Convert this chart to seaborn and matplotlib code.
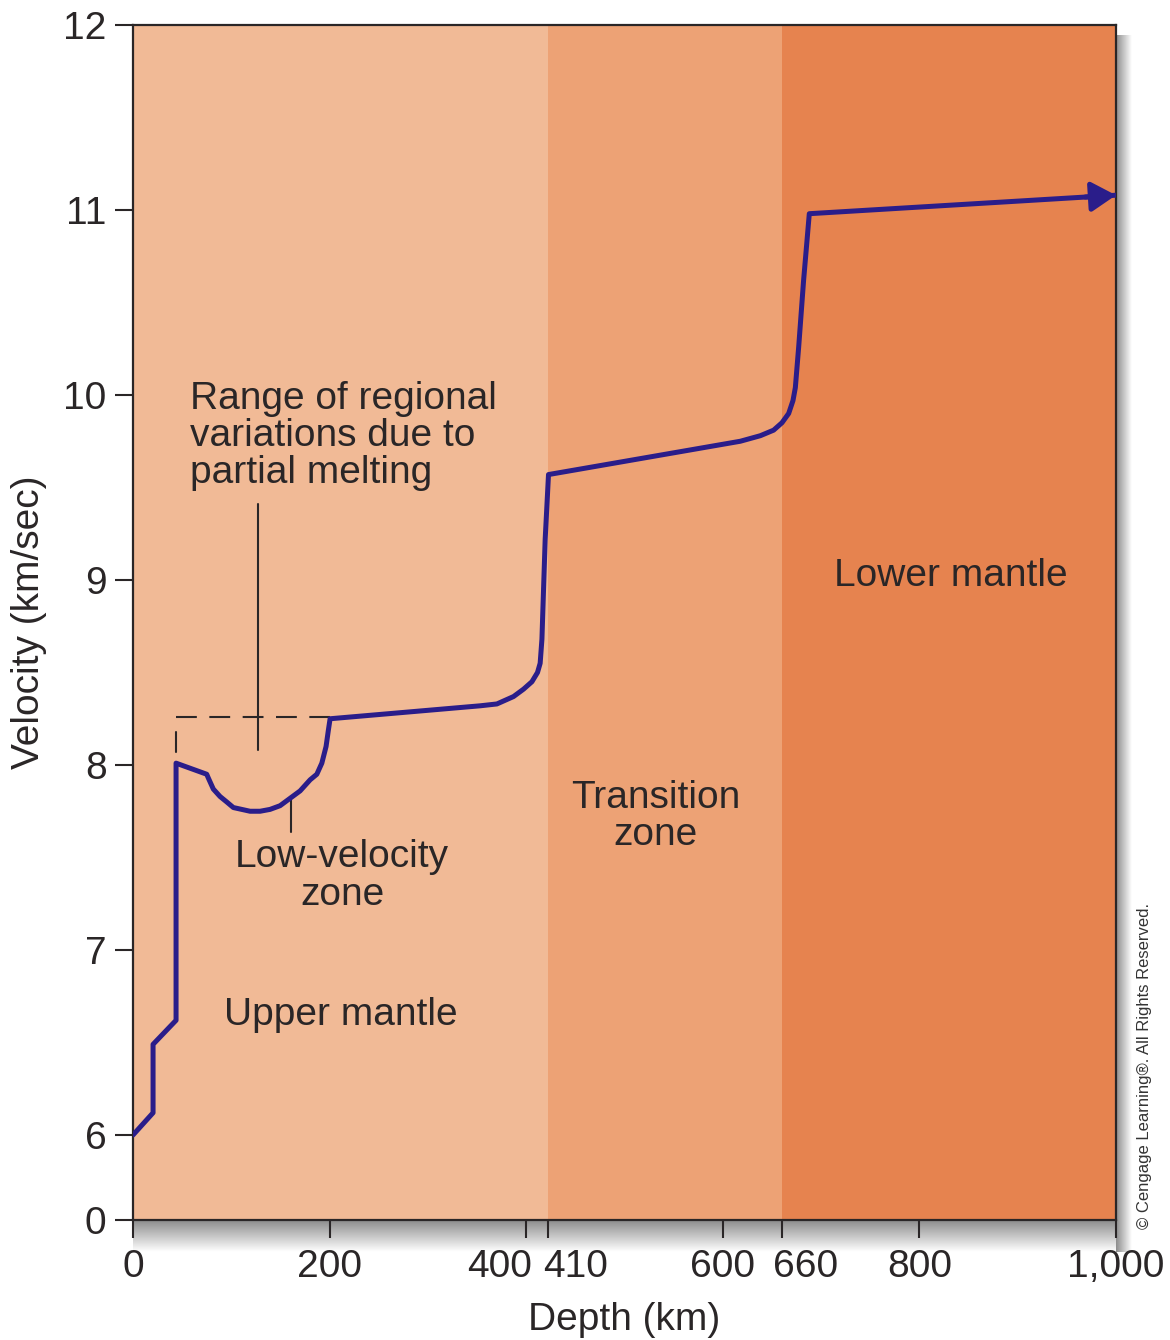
import numpy as np
import pandas as pd
import matplotlib
matplotlib.use("Agg")
import matplotlib.pyplot as plt
import matplotlib.transforms as mtransforms
import seaborn as sns

# ---------------- data ----------------
depth_km = [0, 20.4, 20.4, 43.8, 43.8, 75.0, 76.6, 81.7, 88.5, 95.4, 102.1, 110.6,
            119.1, 129.3, 139.4, 149.6, 159.8, 170.0, 180.2, 187.0, 192.1, 196.4,
            198.8, 200.5, 353.2, 370.2, 387.1, 397.3, 405.8, 411.5, 414.2, 416.0,
            419.3, 422.7, 617.8, 638.2, 651.7, 660.2, 667.0, 671.4, 673.8, 675.5,
            677.2, 682.2, 688.0, 1000.0]
velocity = [6.00, 6.12, 6.49, 6.62, 8.01, 7.95, 7.93, 7.87, 7.83, 7.80, 7.77, 7.76,
            7.75, 7.75, 7.76, 7.78, 7.82, 7.86, 7.92, 7.95, 8.01, 8.10,
            8.19, 8.25, 8.32, 8.33, 8.37, 8.41, 8.45, 8.50, 8.55, 8.68,
            9.22, 9.57, 9.75, 9.78, 9.81, 9.85, 9.90, 9.97, 10.04, 10.15,
            10.26, 10.62, 10.98, 11.08]

zone_names = ["Upper mantle", "Transition\nzone", "Lower mantle"]
zone_edges = [0, 422, 660, 1000]
zone_colors = ["#F1BA96", "#EDA275", "#E6834F"]

x_tick_pos = [0, 200, 400, 422, 600, 660, 800, 1000]
x_tick_labels = ["0", "200", "400", "410", "600", "660", "800", "1,000"]
x_label_shift_px = [0, 0, -27, 28, 0, 24, 0, 0]
y_tick_pos = [0, 6, 7, 8, 9, 10, 11, 12]
y_tick_labels = ["0", "6", "7", "8", "9", "10", "11", "12"]

melt_level = 8.26          # upper bound of regional variations (dashed)
lvz_depth = 160.5          # low-velocity zone pointer

# ---------------- style ----------------
sns.set_theme(style="white")
plt.rcParams["font.family"] = ["Liberation Sans", "DejaVu Sans"]
TXT = "#2A2627"
FS = 28
LS = 1.04

fig = plt.figure(figsize=(11.7, 13.4), dpi=100)
L, R = 133 / 1170, 1116 / 1170
B, T = 1 - 1220 / 1340, 1 - 25 / 1340

# drop shadow (bottom and right)
grad = np.linspace(0.55, 1.0, 64)
sh_b = fig.add_axes([L, 1 - 1252 / 1340, (1132 - 133) / 1170, 32 / 1340], zorder=0)
sh_b.imshow(grad[:, None] * np.ones((1, 10)), cmap="gray", vmin=0, vmax=1, aspect="auto")
sh_b.axis("off")
sh_r = fig.add_axes([R, 1 - 1252 / 1340, 16 / 1170, (1252 - 35) / 1340], zorder=0)
sh_r.imshow(np.ones((10, 1)) * grad[None, :], cmap="gray", vmin=0, vmax=1, aspect="auto")
sh_r.axis("off")

ax = fig.add_axes([L, B, R - L, T - B], zorder=2)

# broken y axis: 0..6 compressed
BR = 6 - 85 / 185
def fwd(v):
    v = np.asarray(v, dtype=float)
    return np.where(v >= 6, v, BR + v * (6 - BR) / 6)
def inv(u):
    u = np.asarray(u, dtype=float)
    return np.where(u >= 6, u, (u - BR) * 6 / (6 - BR))
ax.set_yscale("function", functions=(fwd, inv))

for i in range(len(zone_names)):
    ax.axvspan(zone_edges[i], zone_edges[i + 1], color=zone_colors[i], lw=0, zorder=0)

df = pd.DataFrame({"depth": depth_km, "velocity": velocity})
LINE = "#2A1D8A"
sns.lineplot(data=df, x="depth", y="velocity", sort=False, estimator=None,
             color=LINE, lw=3.6, ax=ax, zorder=5, solid_joinstyle="round",
             solid_capstyle="round")
ax.annotate("", xy=(depth_km[-1], velocity[-1]),
            xytext=(depth_km[-2] + 0.9 * (depth_km[-1] - depth_km[-2]),
                    velocity[-2] + 0.9 * (velocity[-1] - velocity[-2])),
            arrowprops=dict(arrowstyle="-|>,head_length=0.5,head_width=0.3", color=LINE,
                            lw=3.6, mutation_scale=30, shrinkA=0, shrinkB=0),
            zorder=6, annotation_clip=False)

# annotation lines
ax.plot([depth_km[4], depth_km[23]], [melt_level, melt_level], color=TXT, lw=1.5,
        dashes=(10, 6), zorder=4)
ax.plot([depth_km[4], depth_km[4]], [8.07, 8.18], color=TXT, lw=1.5, zorder=4)
ax.plot([127, 127], [8.08, 9.41], color=TXT, lw=1.5, zorder=4)
ax.plot([lvz_depth, lvz_depth], [7.64, 7.81], color=TXT, lw=1.5, zorder=4)

# texts
ax.text(58, 9.78, "Range of regional\nvariations due to\npartial melting", fontsize=FS,
        color=TXT, ha="left", va="center", linespacing=LS)
ax.text(212.7, 7.40, "Low-velocity\nzone", fontsize=FS, color=TXT, ha="center",
        va="center", linespacing=LS)
ax.text(211.7, 6.65, zone_names[0], fontsize=FS, color=TXT, ha="center", va="center")
ax.text(531.3, 7.72, zone_names[1], fontsize=FS, color=TXT, ha="center", va="center",
        linespacing=LS)
ax.text(831.6, 9.02, zone_names[2], fontsize=FS, color=TXT, ha="center", va="center")

ax.set_xlim(zone_edges[0], zone_edges[-1])
ax.set_ylim(0, 12)
ax.set_xticks(x_tick_pos)
ax.set_xticklabels(x_tick_labels)
ax.set_yticks(y_tick_pos)
ax.set_yticklabels(y_tick_labels)
ax.minorticks_off()
ax.tick_params(axis="both", direction="out", length=13, width=1.5, color=TXT,
               labelsize=FS, labelcolor=TXT, pad=6, bottom=True, left=True)
ax.tick_params(axis="x", pad=8)
for lab, dx in zip(ax.get_xticklabels(), x_label_shift_px):
    if dx:
        lab.set_transform(lab.get_transform() +
                          mtransforms.ScaledTranslation(dx / 100, 0, fig.dpi_scale_trans))
ax.set_xlabel("Depth (km)", fontsize=FS, color=TXT, labelpad=12)
ax.set_ylabel("Velocity (km/sec)", fontsize=FS, color=TXT, labelpad=12)
for s in ax.spines.values():
    s.set_color(TXT)
    s.set_linewidth(1.6)
    s.set_visible(True)

fig.text(1145 / 1170, 1 - 1066 / 1340, "© Cengage Learning®. All Rights Reserved.",
         rotation=90, ha="center", va="center", fontsize=12, color="#333333",
         family=["Liberation Sans Narrow", "Liberation Sans", "DejaVu Sans"])

fig.savefig("out.png", dpi=100)
